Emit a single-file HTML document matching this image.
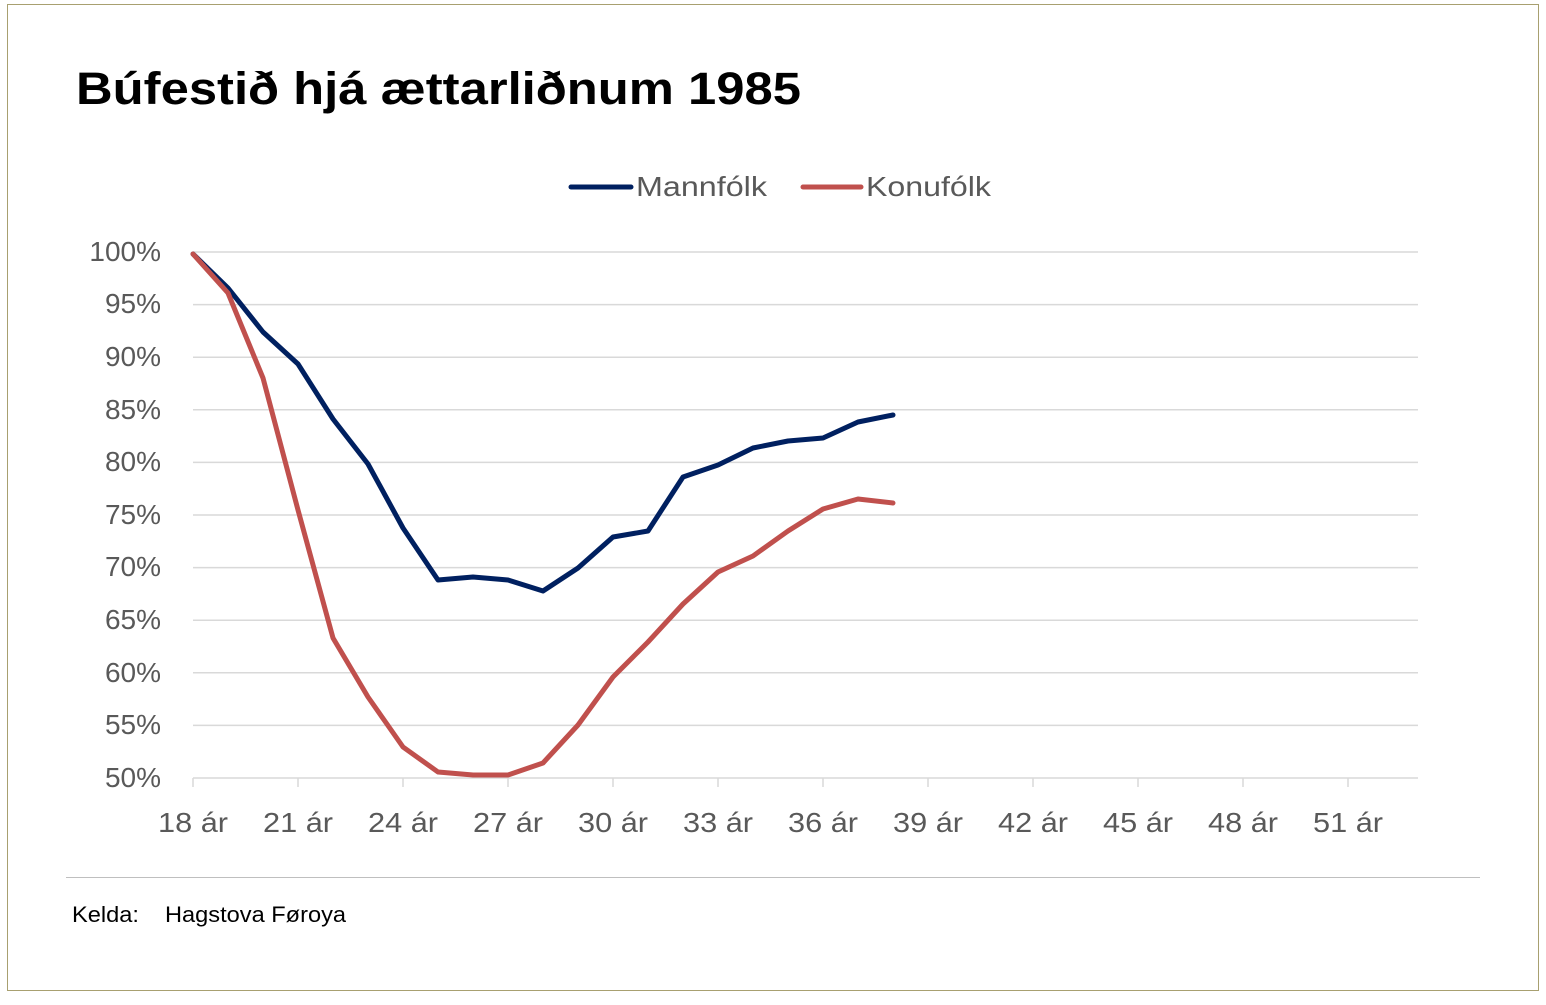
<!DOCTYPE html>
<html><head><meta charset="utf-8"><style>
body{margin:0;background:#fff;width:1546px;height:1000px;overflow:hidden;font-family:"Liberation Sans",sans-serif;}
</style></head><body>
<svg width="1546" height="1000" xmlns="http://www.w3.org/2000/svg" font-family="Liberation Sans, sans-serif">
<rect x="7.5" y="4.5" width="1531" height="986" fill="#fff" stroke="#a8a070" stroke-width="1"/>
<text x="76" y="104" font-size="45" font-weight="bold" fill="#000" textLength="725" lengthAdjust="spacingAndGlyphs">Búfestið hjá ættarliðnum 1985</text>
<line x1="571" y1="187" x2="631" y2="187" stroke="#002060" stroke-width="5" stroke-linecap="round"/>
<text x="636" y="196" font-size="28" fill="#595959" textLength="131" lengthAdjust="spacingAndGlyphs">Mannfólk</text>
<line x1="803" y1="187" x2="861" y2="187" stroke="#c0504d" stroke-width="5" stroke-linecap="round"/>
<text x="866" y="196" font-size="28" fill="#595959" textLength="125" lengthAdjust="spacingAndGlyphs">Konufólk</text>
<g stroke="#d9d9d9" stroke-width="1.5">
<line x1="193" y1="252" x2="1418" y2="252"/><line x1="193" y1="304.6" x2="1418" y2="304.6"/>
<line x1="193" y1="357.2" x2="1418" y2="357.2"/><line x1="193" y1="409.8" x2="1418" y2="409.8"/>
<line x1="193" y1="462.4" x2="1418" y2="462.4"/><line x1="193" y1="515" x2="1418" y2="515"/>
<line x1="193" y1="567.6" x2="1418" y2="567.6"/><line x1="193" y1="620.2" x2="1418" y2="620.2"/>
<line x1="193" y1="672.8" x2="1418" y2="672.8"/><line x1="193" y1="725.4" x2="1418" y2="725.4"/>
<line x1="193" y1="778" x2="1418" y2="778"/>
<line x1="193" y1="778" x2="193" y2="787"/><line x1="298" y1="778" x2="298" y2="787"/><line x1="403" y1="778" x2="403" y2="787"/><line x1="508" y1="778" x2="508" y2="787"/><line x1="613" y1="778" x2="613" y2="787"/><line x1="718" y1="778" x2="718" y2="787"/><line x1="823" y1="778" x2="823" y2="787"/><line x1="928" y1="778" x2="928" y2="787"/><line x1="1033" y1="778" x2="1033" y2="787"/><line x1="1138" y1="778" x2="1138" y2="787"/><line x1="1243" y1="778" x2="1243" y2="787"/><line x1="1348" y1="778" x2="1348" y2="787"/>
</g>
<g font-size="28" fill="#595959" text-anchor="end">
<text x="161" y="261">100%</text><text x="161" y="313">95%</text><text x="161" y="366">90%</text><text x="161" y="419">85%</text><text x="161" y="471">80%</text><text x="161" y="524">75%</text><text x="161" y="576">70%</text><text x="161" y="629">65%</text><text x="161" y="682">60%</text><text x="161" y="734">55%</text><text x="161" y="787">50%</text>
</g>
<g font-size="28" fill="#595959" text-anchor="middle">
<text x="193" y="832" textLength="70" lengthAdjust="spacingAndGlyphs">18 ár</text><text x="298" y="832" textLength="70" lengthAdjust="spacingAndGlyphs">21 ár</text><text x="403" y="832" textLength="70" lengthAdjust="spacingAndGlyphs">24 ár</text><text x="508" y="832" textLength="70" lengthAdjust="spacingAndGlyphs">27 ár</text><text x="613" y="832" textLength="70" lengthAdjust="spacingAndGlyphs">30 ár</text><text x="718" y="832" textLength="70" lengthAdjust="spacingAndGlyphs">33 ár</text><text x="823" y="832" textLength="70" lengthAdjust="spacingAndGlyphs">36 ár</text><text x="928" y="832" textLength="70" lengthAdjust="spacingAndGlyphs">39 ár</text><text x="1033" y="832" textLength="70" lengthAdjust="spacingAndGlyphs">42 ár</text><text x="1138" y="832" textLength="70" lengthAdjust="spacingAndGlyphs">45 ár</text><text x="1243" y="832" textLength="70" lengthAdjust="spacingAndGlyphs">48 ár</text><text x="1348" y="832" textLength="70" lengthAdjust="spacingAndGlyphs">51 ár</text>
</g>
<polyline fill="none" stroke="#002060" stroke-width="5" stroke-linejoin="round" stroke-linecap="round" points="193,254 228,288 263,332 298,364 333,419 368,464 403,528 438,580 473,577 508,580 543,591 578,568 613,537 648,531 683,477 718,465 753,448 788,441 823,438 858,422 893,415"/>
<polyline fill="none" stroke="#c0504d" stroke-width="5" stroke-linejoin="round" stroke-linecap="round" points="193,254 228,293 263,378 298,510 333,638 368,697 403,747 438,772 473,775 508,775 543,763 578,725 613,677 648,642 683,604 718,572 753,556 788,531 823,509 858,499 893,503"/>
<line x1="66" y1="877.5" x2="1480" y2="877.5" stroke="#bfbfbf" stroke-width="1"/>
<text x="72" y="922" font-size="22" fill="#000" textLength="67" lengthAdjust="spacingAndGlyphs">Kelda:</text>
<text x="165" y="922" font-size="22" fill="#000" textLength="181" lengthAdjust="spacingAndGlyphs">Hagstova Føroya</text>
</svg>
</body></html>
